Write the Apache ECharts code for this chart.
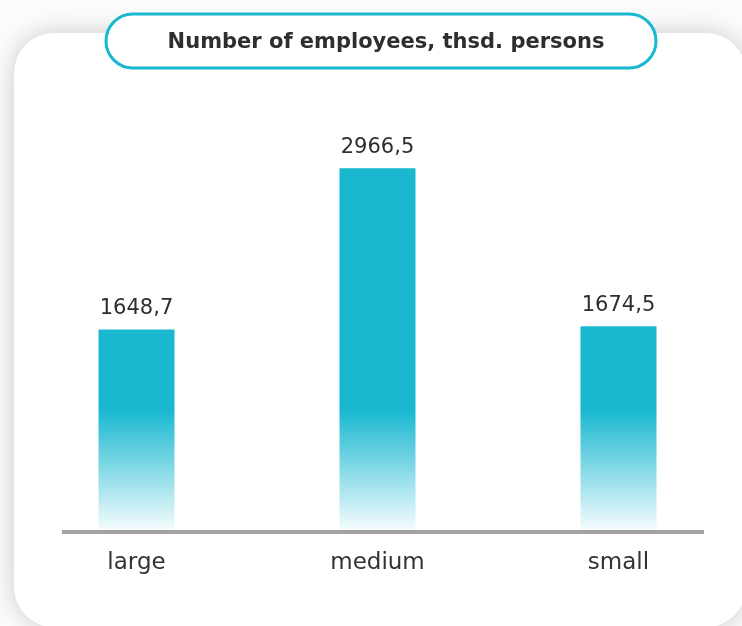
<!DOCTYPE html>
<html>
<head>
<meta charset="utf-8">
<script src="https://cdn.jsdelivr.net/npm/echarts@6/dist/echarts.min.js"></script>
<style>
  html, body { margin: 0; padding: 0; background: #fbfbfb; }
  #chart { width: 742px; height: 626px; }
</style>
</head>
<body>
<div id="chart"></div>
<script>
  var titleText = "Number of employees, thsd. persons";
  var categories = ["large", "medium", "small"];
  var employees = [1648.7, 2966.5, 1674.5];

  var teal = "#19b8d0";
  var font = "DejaVu Sans";

  var chart = echarts.init(document.getElementById("chart"));
  chart.setOption({
    backgroundColor: "transparent",
    animation: false,
    title: {
      text: titleText,
      left: 381, top: 27, textAlign: "center",
      textStyle: { fontFamily: font, fontSize: 21, fontWeight: "bold", color: "#2e2e2e" }
    },
    graphic: [
      { type: "rect", z: -10, shape: { x: 14, y: 33, width: 732, height: 594, r: 40 },
        style: { fill: "#ffffff", shadowBlur: 24, shadowColor: "rgba(0,0,0,0.2)" } },
      { type: "rect", z: -5, shape: { x: 106, y: 14, width: 550, height: 54, r: 27 },
        style: { fill: "#ffffff", stroke: teal, lineWidth: 3 } },
      { type: "rect", z: 10, shape: { x: 62, y: 530, width: 642, height: 4 },
        style: { fill: "#a3a3a3" } }
    ],
    grid: { left: 16, right: 3, top: 103, bottom: 95 },
    xAxis: {
      type: "category", data: categories,
      axisLine: { show: false }, axisTick: { show: false },
      axisLabel: { margin: 21, fontFamily: font, fontSize: 23, color: "#333333" }
    },
    yAxis: { type: "value", min: 0, max: 3500, show: false, splitLine: { show: false } },
    series: [{
      type: "bar", data: employees, barWidth: 76,
      itemStyle: {
        color: new echarts.graphic.LinearGradient(0, 410, 0, 531, [
          { offset: 0, color: teal },
          { offset: 1, color: "rgba(25,184,208,0.04)" }
        ], true)
      },
      label: {
        show: true, position: "top", distance: 10,
        fontFamily: font, fontSize: 21, color: "#2e2e2e",
        formatter: function (p) { return String(p.value).replace(".", ","); }
      }
    }]
  });
</script>
</body>
</html>
